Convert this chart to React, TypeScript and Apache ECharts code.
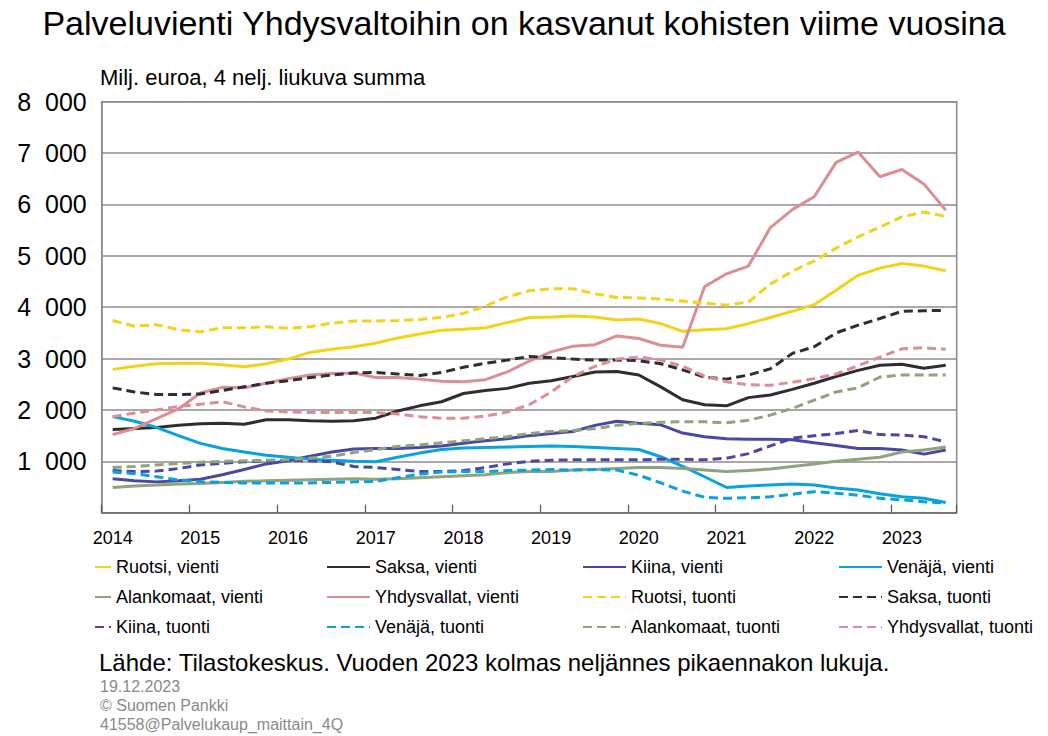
import React, { useEffect, useRef } from "react";
import * as echarts from "echarts";

const quarters: string[] = [
  "2014Q1", "2014Q2", "2014Q3", "2014Q4",
  "2015Q1", "2015Q2", "2015Q3", "2015Q4",
  "2016Q1", "2016Q2", "2016Q3", "2016Q4",
  "2017Q1", "2017Q2", "2017Q3", "2017Q4",
  "2018Q1", "2018Q2", "2018Q3", "2018Q4",
  "2019Q1", "2019Q2", "2019Q3", "2019Q4",
  "2020Q1", "2020Q2", "2020Q3", "2020Q4",
  "2021Q1", "2021Q2", "2021Q3", "2021Q4",
  "2022Q1", "2022Q2", "2022Q3", "2022Q4",
  "2023Q1", "2023Q2", "2023Q3",
];

const yTicks: number[] = [0, 1000, 2000, 3000, 4000, 5000, 6000, 7000, 8000];

const ruotsiVienti = [2790, 2850, 2900, 2910, 2910, 2880, 2840, 2900, 2990, 3120, 3180, 3230, 3300, 3400, 3480, 3550, 3570, 3600, 3700, 3800, 3810, 3830, 3810, 3750, 3770, 3680, 3530, 3560, 3580, 3680, 3800, 3920, 4050, 4330, 4620, 4760, 4850, 4800, 4710];
const saksaVienti = [1620, 1640, 1660, 1700, 1730, 1740, 1720, 1810, 1810, 1790, 1780, 1790, 1840, 1980, 2080, 2160, 2320, 2380, 2420, 2520, 2570, 2650, 2740, 2750, 2680, 2450, 2200, 2100, 2080, 2240, 2290, 2400, 2520, 2650, 2770, 2870, 2890, 2810, 2870];
const kiinaVienti = [660, 620, 600, 620, 650, 740, 840, 950, 1010, 1100, 1180, 1240, 1250, 1250, 1270, 1300, 1350, 1400, 1440, 1500, 1540, 1580, 1700, 1780, 1740, 1710, 1550, 1480, 1440, 1430, 1430, 1420, 1360, 1310, 1250, 1250, 1220, 1140, 1220];
const venajaVienti = [1870, 1780, 1660, 1500, 1350, 1250, 1180, 1120, 1080, 1040, 1020, 1000, 990, 1080, 1160, 1230, 1260, 1270, 1280, 1290, 1300, 1290, 1270, 1250, 1230, 1090, 900, 700, 490, 520, 540, 560, 540, 480, 440, 370, 310, 280, 200];
const alankomaatVienti = [490, 520, 540, 560, 570, 590, 610, 620, 630, 640, 650, 660, 650, 660, 680, 700, 720, 740, 780, 800, 800, 830, 840, 860, 880, 880, 860, 830, 800, 820, 850, 900, 950, 1000, 1040, 1080, 1180, 1220, 1280];
const yhdysvallatVienti = [1520, 1640, 1830, 2020, 2330, 2440, 2430, 2520, 2610, 2680, 2710, 2720, 2630, 2630, 2600, 2560, 2550, 2590, 2740, 2950, 3130, 3240, 3270, 3440, 3390, 3260, 3220, 4400, 4650, 4800, 5550, 5900, 6150, 6820, 7020, 6540, 6680, 6400, 5890];
const ruotsiTuonti = [3740, 3630, 3660, 3560, 3520, 3600, 3600, 3620, 3590, 3620, 3690, 3730, 3730, 3740, 3760, 3800, 3880, 4020, 4200, 4320, 4360, 4360, 4260, 4190, 4180, 4160, 4120, 4080, 4040, 4100, 4450, 4700, 4900, 5150, 5370, 5560, 5760, 5850, 5770];
const saksaTuonti = [2430, 2350, 2300, 2300, 2310, 2380, 2450, 2520, 2570, 2630, 2680, 2720, 2730, 2700, 2670, 2730, 2830, 2910, 2970, 3040, 3020, 2990, 2970, 2970, 2960, 2900, 2780, 2640, 2600, 2680, 2800, 3100, 3230, 3500, 3650, 3780, 3920, 3930, 3940];
const kiinaTuonti = [820, 800, 810, 860, 930, 960, 990, 1010, 1020, 1010, 990, 900, 880, 840, 800, 800, 820, 880, 950, 1000, 1020, 1030, 1030, 1030, 1030, 1040, 1040, 1030, 1060, 1150, 1300, 1450, 1500, 1540, 1600, 1520, 1510, 1480, 1380];
const venajaTuonti = [790, 760, 700, 640, 600, 590, 580, 580, 580, 580, 590, 600, 610, 680, 750, 790, 800, 800, 820, 830, 840, 830, 840, 830, 730, 580, 420, 300, 280, 290, 310, 360, 410, 380, 340, 280, 250, 215, 185];
const alankomaatTuonti = [880, 900, 930, 960, 980, 1000, 1010, 1020, 1030, 1060, 1100, 1170, 1230, 1290, 1320, 1360, 1400, 1440, 1480, 1540, 1580, 1600, 1640, 1700, 1740, 1760, 1770, 1770, 1750, 1800, 1900, 2030, 2190, 2350, 2430, 2640, 2680, 2680, 2680];
const yhdysvallatTuonti = [1870, 1940, 2000, 2070, 2110, 2160, 2060, 1980, 1960, 1950, 1950, 1950, 1950, 1920, 1870, 1840, 1840, 1880, 1960, 2100, 2350, 2650, 2850, 2990, 3030, 2970, 2850, 2660, 2550, 2490, 2480, 2540, 2610, 2700, 2860, 3030, 3190, 3210, 3180];

const seriesNames = [
  "Ruotsi, vienti", "Saksa, vienti", "Kiina, vienti", "Venäjä, vienti",
  "Alankomaat, vienti", "Yhdysvallat, vienti", "Ruotsi, tuonti", "Saksa, tuonti",
  "Kiina, tuonti", "Venäjä, tuonti", "Alankomaat, tuonti", "Yhdysvallat, tuonti",
];
const seriesData = [
  ruotsiVienti, saksaVienti, kiinaVienti, venajaVienti,
  alankomaatVienti, yhdysvallatVienti, ruotsiTuonti, saksaTuonti,
  kiinaTuonti, venajaTuonti, alankomaatTuonti, yhdysvallatTuonti,
];
const seriesColors = [
  "#f3d21a", "#2e2e2e", "#4a49a2", "#08a2df",
  "#8ea47c", "#dc8e95", "#f3d21a", "#2e2e2e",
  "#4a49a2", "#08a2df", "#8ea47c", "#dc8e95",
];
const seriesDashed = [false, false, false, false, false, false, true, true, true, true, true, true];

const FONT = "Liberation Sans, Arial, sans-serif";

export default function App() {
  const ref = useRef<HTMLDivElement>(null);
  useEffect(() => {
    if (!ref.current) return;
    const chart = echarts.init(ref.current, undefined, { renderer: "svg" });
    const series = seriesNames.map((name, i) => ({
      name,
      type: "line",
      data: seriesData[i],
      symbol: "none",
      smooth: false,
      z: 2,
      lineStyle: {
        color: seriesColors[i],
        width: 3,
        type: seriesDashed[i] ? [9, 5] : "solid",
      },
      itemStyle: { color: seriesColors[i] },
    }));
    const legendCols = [
      { left: 94, w: 16, items: [seriesNames[0], seriesNames[4], seriesNames[8]] },
      { left: 326, w: 43, items: [seriesNames[1], seriesNames[5], seriesNames[9]] },
      { left: 582, w: 43, items: [seriesNames[2], seriesNames[6], seriesNames[10]] },
      { left: 838, w: 43, items: [seriesNames[3], seriesNames[7], seriesNames[11]] },
    ];
    const gray = { fontSize: 16, fontWeight: "normal", color: "#8a8a8a", fontFamily: FONT };
    chart.setOption({
      animation: false,
      textStyle: { fontFamily: FONT },
      title: [
        {
          text: "Palveluvienti Yhdysvaltoihin on kasvanut kohisten viime vuosina",
          left: "center",
          top: 1,
          textStyle: { fontSize: 34, fontWeight: "normal", color: "#000", fontFamily: FONT },
        },
        {
          text: "Milj. euroa, 4 nelj. liukuva summa",
          left: 95,
          top: 61,
          textStyle: { fontSize: 22, fontWeight: "normal", color: "#000", fontFamily: FONT },
        },
        {
          text: "Lähde: Tilastokeskus. Vuoden 2023 kolmas neljännes pikaennakon lukuja.",
          left: 94,
          top: 645,
          textStyle: { fontSize: 24, fontWeight: "normal", color: "#000", fontFamily: FONT },
        },
        { text: "19.12.2023", left: 95, top: 673, textStyle: gray },
        { text: "© Suomen Pankki", left: 95, top: 692, textStyle: gray },
        { text: "41558@Palvelukaup_maittain_4Q", left: 95, top: 711, textStyle: gray },
      ],
      legend: legendCols.map((c) => ({
        orient: "vertical",
        left: c.left,
        top: 557,
        itemWidth: c.w,
        itemHeight: 14,
        itemGap: 10,
        padding: 0,
        data: c.items,
        itemStyle: { opacity: 0, borderWidth: 0 },
        textStyle: { fontSize: 18, color: "#000", fontFamily: FONT, lineHeight: 20 },
        selectedMode: false,
      })),
      grid: {
        left: 101.7,
        top: 101.7,
        right: 1048 - 956.7,
        bottom: 736 - 512.7,
        show: true,
        borderColor: "#8c8c8c",
        borderWidth: 1.5,
        containLabel: false,
      },
      xAxis: {
        type: "category",
        data: quarters,
        boundaryGap: true,
        axisLine: { show: true, lineStyle: { color: "#6e6e6e", width: 1.5 } },
        axisTick: { show: true, interval: 3, inside: true, length: 8, lineStyle: { color: "#555", width: 1.2 } },
        axisLabel: {
          interval: 3,
          margin: 16,
          fontSize: 18,
          color: "#000",
          fontFamily: FONT,
          formatter: (v: string) => (v.endsWith("Q1") ? v.slice(0, 4) : ""),
        },
        splitLine: { show: false },
      },
      yAxis: {
        type: "value",
        min: yTicks[0],
        max: yTicks[yTicks.length - 1],
        interval: 1000,
        axisLine: { show: true, lineStyle: { color: "#8c8c8c", width: 1.5 } },
        axisTick: { show: false },
        axisLabel: {
          margin: 15,
          fontSize: 25,
          color: "#000",
          fontFamily: FONT,
          formatter: (v: number) =>
            v === 0 ? "" : String(Math.floor(v / 1000)) + "\u2007" + String(v % 1000).padStart(3, "0"),
        },
        splitLine: { show: true, lineStyle: { color: "#8c8c8c", width: 1.5 } },
      },
      series,
    });
    return () => chart.dispose();
  }, []);
  return (
    <div
      ref={ref}
      style={{ position: "fixed", left: 0, top: 0, width: 1048, height: 736, background: "#fff" }}
    />
  );
}
